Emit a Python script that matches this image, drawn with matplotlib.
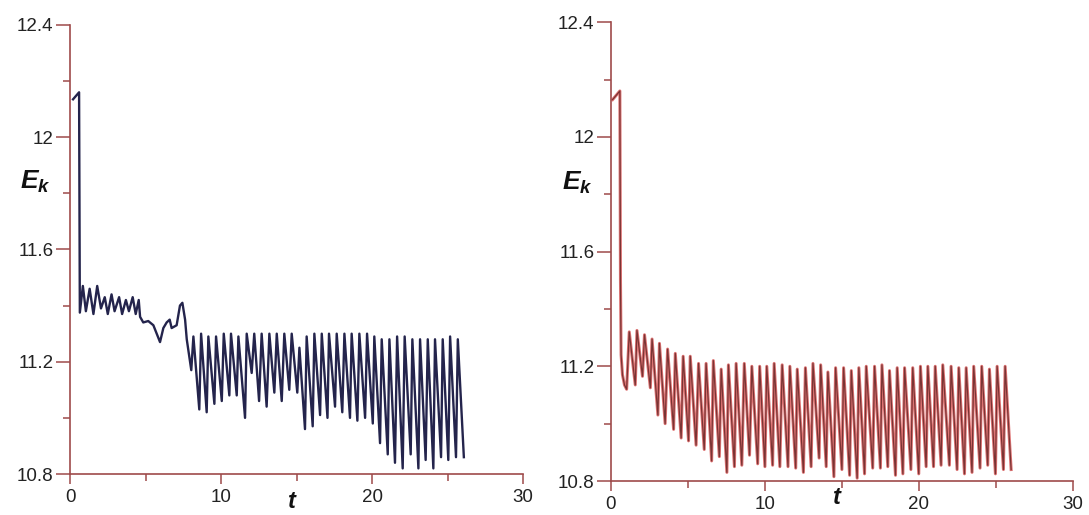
import matplotlib
matplotlib.use("Agg")
import matplotlib.pyplot as plt
from matplotlib.ticker import MultipleLocator, FormatStrFormatter

# kinetic energy E_k against time t, two runs
# left panel (dark blue) vertices in order
left_t = [0.2, 0.6, 0.65,
          0.85, 1.05, 1.3, 1.55, 1.8, 2.05, 2.3, 2.5, 2.75, 2.95, 3.25, 3.45,
          3.7, 3.9, 4.15, 4.35, 4.55,
          4.64, 4.85, 5.18, 5.52, 5.96, 6.18, 6.4, 6.6, 6.73, 7.06, 7.28, 7.44,
          7.62, 7.73, 8.03,
          8.17, 8.56, 8.68, 9.05, 9.16, 9.56, 9.67, 10.05, 10.18, 10.55, 10.66,
          11.04, 11.15, 11.59, 11.70, 12.03, 12.20, 12.52, 12.69, 13.02, 13.20,
          13.53, 13.69, 14.02, 14.19, 14.52, 14.68, 15.05, 15.19, 15.56, 15.67,
          16.07, 16.18, 16.56, 16.67, 17.05, 17.15, 17.55, 17.66, 18.03, 18.17,
          18.54, 18.65, 19.03, 19.16, 19.54, 19.67, 20.05, 20.15, 20.53, 20.64,
          21.04, 21.15, 21.52, 21.66, 22.03, 22.16, 22.56, 22.67, 23.07, 23.18,
          23.55, 23.69, 24.06, 24.17, 24.57, 24.68, 25.05, 25.17, 25.56, 25.68,
          26.08]
left_e = [12.135, 12.16, 11.375,
          11.47, 11.38, 11.46, 11.37, 11.47, 11.39, 11.43, 11.37, 11.44, 11.38,
          11.43, 11.37, 11.42, 11.38, 11.43, 11.37, 11.42,
          11.36, 11.34, 11.345, 11.33, 11.27, 11.32, 11.34, 11.35, 11.32, 11.33,
          11.40, 11.41, 11.35, 11.28, 11.17,
          11.29, 11.03, 11.30, 11.02, 11.29, 11.05, 11.29, 11.06, 11.30, 11.08,
          11.30, 11.08, 11.29, 11.00, 11.30, 11.16, 11.30, 11.06, 11.30, 11.04,
          11.30, 11.09, 11.30, 11.06, 11.30, 11.10, 11.30, 11.09, 11.25, 10.96,
          11.29, 10.97, 11.30, 11.01, 11.30, 11.00, 11.30, 11.04, 11.30, 11.02,
          11.30, 11.00, 11.30, 10.99, 11.30, 11.00, 11.30, 10.98, 11.29, 10.91,
          11.28, 10.87, 11.28, 10.84, 11.29, 10.82, 11.29, 10.87, 11.28, 10.82,
          11.28, 10.85, 11.28, 10.82, 11.28, 10.86, 11.28, 10.85, 11.29, 10.86,
          11.28, 10.86]

# right panel (red) vertices in order
right_t = [0.11, 0.58, 0.62, 0.66, 0.75, 0.88, 1.02,
           1.19, 1.58, 1.69, 2.05, 2.18, 2.56, 2.67, 3.05, 3.15, 3.52, 3.68,
           4.07, 4.18, 4.56, 4.69, 5.04, 5.15, 5.53, 5.69, 6.06, 6.18, 6.54,
           6.65, 7.04, 7.16, 7.53, 7.63, 8.02, 8.13, 8.5, 8.66, 9.0, 9.15, 9.53,
           9.66, 10.0, 10.12, 10.5, 10.6, 10.97, 11.12, 11.5, 11.62, 12.0, 12.1,
           12.5, 12.63, 13.0, 13.12, 13.52, 13.62, 13.98, 14.09, 14.48, 14.59,
           15.0, 15.11, 15.5, 15.61, 15.99, 16.10, 16.47, 16.58, 17.0, 17.12,
           17.5, 17.6, 17.98, 18.09, 18.48, 18.59, 18.96, 19.07, 19.48, 19.6,
           19.99, 20.1, 20.47, 20.58, 20.95, 21.06, 21.44, 21.55, 21.98, 22.09,
           22.48, 22.59, 22.96, 23.07, 23.45, 23.56, 23.97, 24.08, 24.47, 24.58,
           24.97, 25.08, 25.49, 25.6, 25.99]
right_e = [12.13, 12.16, 11.5, 11.24, 11.17, 11.135, 11.12,
           11.32, 11.135, 11.325, 11.165, 11.31, 11.125, 11.295, 11.03, 11.28,
           11.0, 11.26, 10.98, 11.245, 10.95, 11.235, 10.94, 11.235, 10.925,
           11.21, 10.91, 11.21, 10.87, 11.22, 10.885, 11.19, 10.83, 11.205,
           10.85, 11.21, 10.855, 11.21, 10.89, 11.20, 10.86, 11.20, 10.85, 11.20,
           10.855, 11.21, 10.85, 11.205, 10.85, 11.20, 10.845, 11.19, 10.83,
           11.195, 10.85, 11.21, 10.88, 11.205, 10.85, 11.18, 10.815, 11.195,
           10.84, 11.195, 10.82, 11.185, 10.81, 11.195, 10.825, 11.20, 10.845,
           11.20, 10.845, 11.205, 10.85, 11.185, 10.82, 11.195, 10.825, 11.195,
           10.84, 11.195, 10.825, 11.20, 10.85, 11.20, 10.85, 11.20, 10.855,
           11.205, 10.855, 11.20, 10.84, 11.195, 10.825, 11.195, 10.83, 11.20,
           10.845, 11.20, 10.855, 11.19, 10.825, 11.20, 10.84, 11.20, 10.84]

x_ticks = [0, 10, 20, 30]
y_ticks = [10.8, 11.2, 11.6, 12.0, 12.4]

axis_color = "#9e4a4a"

plt.rcParams["font.family"] = ["Liberation Sans", "DejaVu Sans"]
plt.rcParams["mathtext.fontset"] = "custom"
plt.rcParams["mathtext.it"] = "Liberation Sans:italic:bold"
plt.rcParams["mathtext.rm"] = "Liberation Sans:italic:bold"


def style_axes(ax, t_drop):
    ax.set_xlim(0, 30)
    ax.set_ylim(10.8, 12.4)
    for side in ["top", "right"]:
        ax.spines[side].set_visible(False)
    for side in ["left", "bottom"]:
        ax.spines[side].set_color(axis_color)
        ax.spines[side].set_linewidth(1.2)
    ax.set_xticks(x_ticks)
    ax.set_yticks(y_ticks)
    ax.xaxis.set_minor_locator(MultipleLocator(5))
    ax.yaxis.set_minor_locator(MultipleLocator(0.2))
    ax.yaxis.set_major_formatter(FormatStrFormatter("%g"))
    ax.tick_params(axis="both", which="both", direction="out",
                   color=axis_color, width=1.1, labelsize=13.5,
                   labelcolor="#222222")
    ax.tick_params(axis="y", which="major", length=10, pad=2)
    ax.tick_params(axis="x", which="major", length=7, pad=4)
    ax.tick_params(axis="both", which="minor", length=5)
    ax.annotate("$t$", xy=(14.7, 0), xycoords=("data", "axes fraction"),
                xytext=(0, -t_drop), textcoords="offset points",
                ha="center", va="center", fontsize=17, color="#111111")


fig = plt.figure(figsize=(10.89, 5.15), dpi=100)

axL = fig.add_axes([0.0643, 0.0796, 0.416, 0.872])
axL.plot(left_t, left_e, color="#24244c", linewidth=1.7)
style_axes(axL, 20)
axL.text(-2.3, 11.84, "$E_k$", fontsize=19, color="#111111",
         ha="center", va="center")

axR = fig.add_axes([0.561, 0.066, 0.4242, 0.891])
axR.plot(right_t, right_e, color="#d85c5c", linewidth=2.2, alpha=0.85)
axR.plot(right_t, right_e, color="#7a3434", linewidth=0.9)
style_axes(axR, 12)
axR.text(-2.2, 11.84, "$E_k$", fontsize=19, color="#111111",
         ha="center", va="center")

fig.savefig("out.png", dpi=100)
